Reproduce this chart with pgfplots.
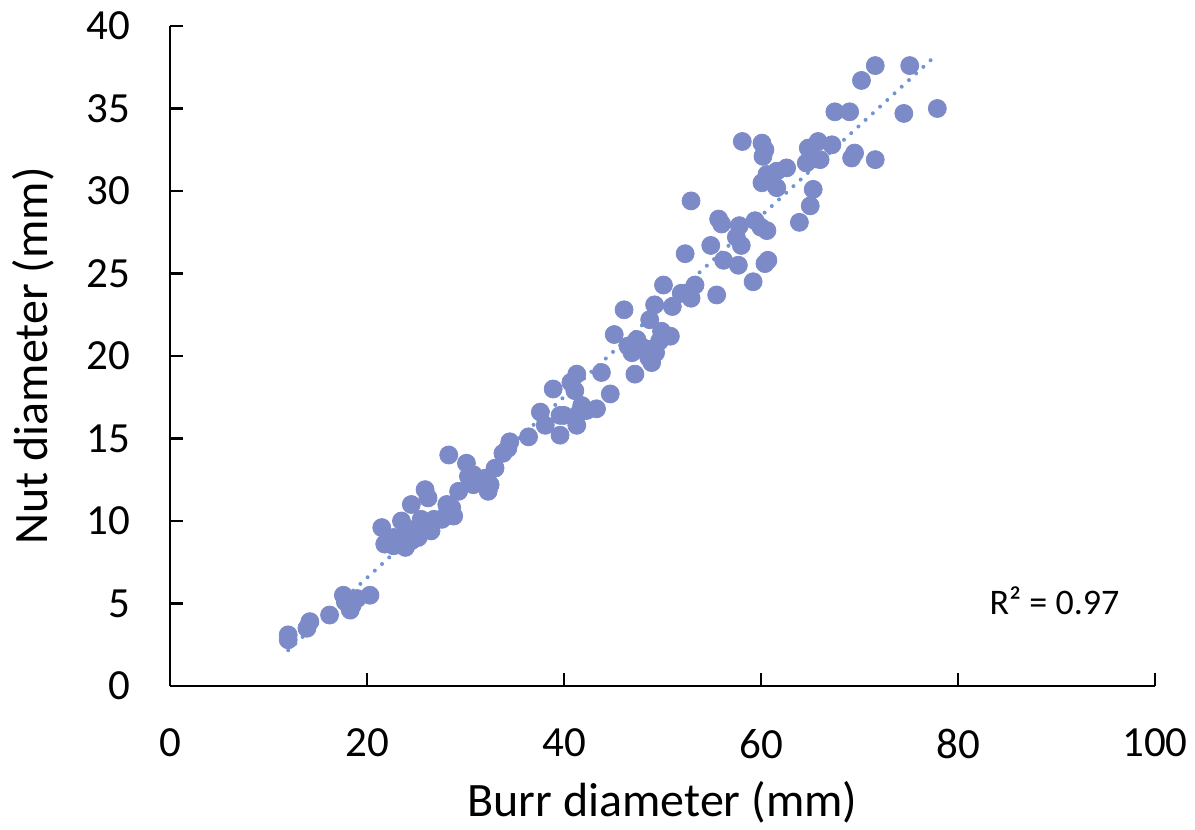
\documentclass[border=0pt]{standalone}
\usepackage{fontspec}
\setmainfont{Carlito}
\usepackage{pgfplots}
\usepackage{pgfplotstable}
\pgfplotsset{compat=1.18}
\definecolor{pt}{HTML}{7C8AC8}
\definecolor{tl}{HTML}{7095D5}
\pgfplotstableread{
x y
12.0 3.1
12.0 2.8
13.9 3.5
14.2 3.9
16.2 4.3
17.6 5.5
17.8 5.1
18.3 4.6
18.5 4.9
19.0 5.3
20.3 5.5
21.5 9.6
21.8 8.6
22.7 8.5
22.7 9.0
23.2 8.8
23.5 10.0
23.7 9.2
23.9 8.4
24.2 9.5
24.5 8.8
24.5 11.0
25.0 9.5
25.2 9.0
25.5 10.1
25.9 11.9
26.2 11.4
26.5 9.4
26.8 10.1
27.6 10.1
28.1 11.0
28.3 14.0
28.6 10.8
28.8 10.3
29.3 11.8
30.1 13.5
30.3 12.7
30.5 12.4
30.8 12.8
30.8 12.2
31.5 12.3
32.1 12.6
32.3 11.8
32.5 12.2
33.0 13.2
33.8 14.1
34.3 14.4
34.5 14.8
36.4 15.1
37.6 16.6
38.1 15.8
38.9 18.0
39.6 15.2
39.6 16.4
40.0 16.4
40.7 18.4
41.1 17.9
41.3 18.9
41.3 15.8
41.6 16.6
41.8 17.0
42.3 16.7
43.3 16.8
43.8 19.0
44.7 17.7
45.1 21.3
46.1 22.8
46.5 20.6
46.9 20.2
47.2 18.9
47.4 21.0
47.8 20.6
48.6 20.4
48.7 22.2
48.6 19.9
48.9 19.6
49.2 23.1
49.3 20.2
49.7 20.9
49.9 21.5
50.1 24.3
50.8 21.2
51.0 23.0
51.9 23.8
52.3 26.2
52.9 29.4
52.9 23.5
53.3 24.3
54.9 26.7
55.5 23.7
55.7 28.3
56.0 28.0
56.2 25.8
57.5 27.2
57.7 25.5
57.8 27.9
58.0 26.7
58.1 33.0
59.2 24.5
59.4 28.2
60.0 27.8
60.1 32.9
60.2 32.1
60.4 32.5
60.1 30.5
60.6 31.0
60.6 27.6
60.4 25.6
60.7 25.8
61.6 31.2
61.6 30.2
62.6 31.4
63.9 28.1
64.6 31.7
64.8 32.6
65.0 29.1
65.3 30.1
65.8 33.0
66.0 31.9
67.2 32.8
67.5 34.8
69.0 34.8
69.2 32.0
69.5 32.3
70.2 36.7
71.6 37.6
71.6 31.9
74.5 34.7
75.1 37.6
77.9 35.0
}\datatable
\begin{document}
\begin{tikzpicture}
\path[use as bounding box] (-85pt,-72pt) rectangle (512.5pt,343pt);
\begin{axis}[
  at={(0,0)}, anchor=south west,
  scale only axis, width=492.5pt, height=330pt,
  xmin=0, xmax=100, ymin=0, ymax=40,
  axis lines*=left,
  axis line style={black, line width=1.1pt},
  xtick={0,20,...,100}, ytick={0,5,...,40},
  tick align=inside, major tick length=6.5pt,
  tick style={black, line width=1.1pt},
  /pgf/number format/assume math mode=true,
  ticklabel style={font=\fontsize{21.5}{26}\selectfont},
  yticklabel style={xshift=-16.5pt},
  xticklabel style={yshift=-18pt},
  xlabel={Burr diameter (mm)},
  ylabel={Nut diameter (mm)},
  every axis x label/.style={at={(axis description cs:0.5,-0.197)}, anchor=base, font=\fontsize{24}{28}\selectfont},
  every axis y label/.style={at={(axis description cs:-0.124,0.5)}, rotate=90, anchor=base, font=\fontsize{24}{28}\selectfont},
  clip=false,
]
\addplot[only marks, mark=*, mark size=4.5pt, mark options={fill=pt, draw=pt}] table[x=x,y=y] {\datatable};
\addplot[tl, line width=2pt, line cap=round, dash pattern=on 0pt off 4.9pt] coordinates {(12.0,2.17) (77.9,38.3)};
\node[font=\fontsize{18}{22}\selectfont, anchor=center] at (axis cs:89.8,5.15) {R² = 0.97};
\end{axis}
\end{tikzpicture}
\end{document}
